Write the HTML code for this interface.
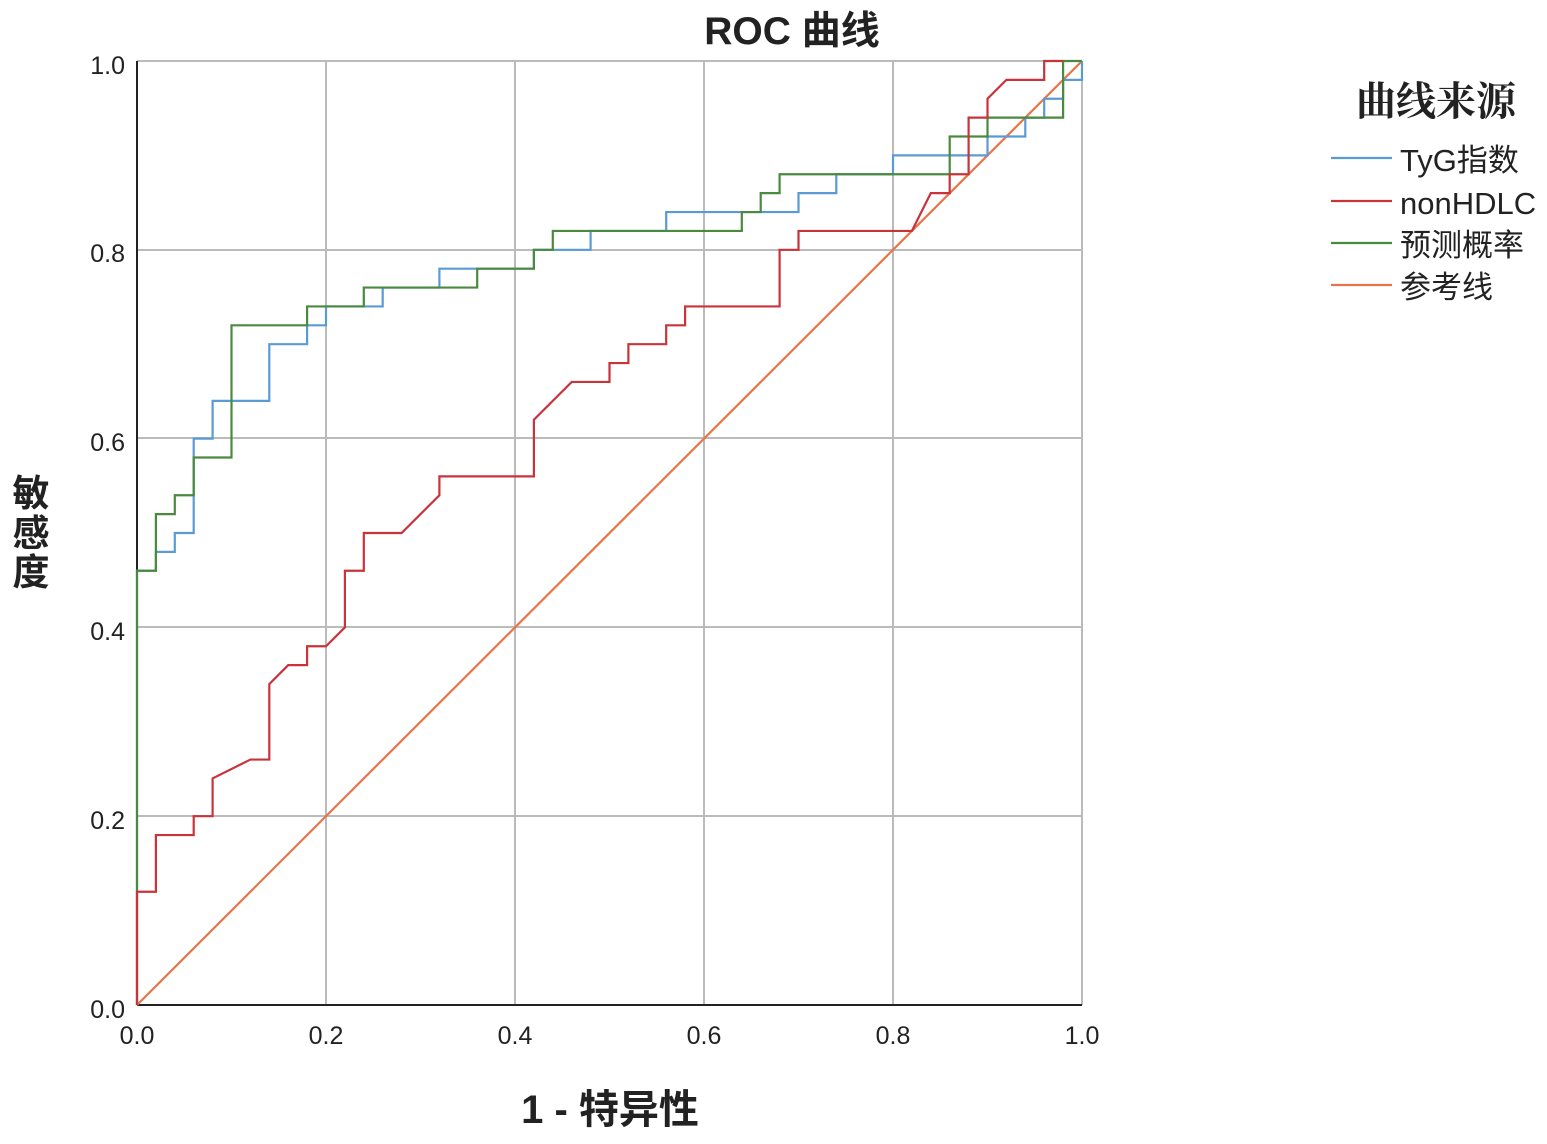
<!DOCTYPE html>
<html><head><meta charset="utf-8"><style>
body{margin:0;background:#fff}
svg{display:block}
text{font-family:"Liberation Sans","Noto Sans CJK SC",sans-serif;fill:#222}
.b{font-weight:bold}
</style></head><body>
<svg width="1547" height="1144" viewBox="0 0 1547 1144">
<text x="792" y="44" text-anchor="middle" font-size="39" class="b">ROC 曲线</text>
<g stroke="#bbb" stroke-width="2">
<line x1="326" y1="61" x2="326" y2="1005"/><line x1="515" y1="61" x2="515" y2="1005"/>
<line x1="704" y1="61" x2="704" y2="1005"/><line x1="893" y1="61" x2="893" y2="1005"/>
<line x1="1082" y1="61" x2="1082" y2="1005"/>
<line x1="137" y1="61" x2="1082" y2="61"/><line x1="137" y1="250" x2="1082" y2="250"/>
<line x1="137" y1="438" x2="1082" y2="438"/><line x1="137" y1="627" x2="1082" y2="627"/>
<line x1="137" y1="816" x2="1082" y2="816"/>
</g>
<g stroke="#222" stroke-width="2"><line x1="137" y1="61" x2="137" y2="1005"/><line x1="137" y1="1005" x2="1082" y2="1005"/></g>
<g font-size="25" text-anchor="end">
<text x="125" y="74">1.0</text><text x="125" y="262">0.8</text><text x="125" y="451">0.6</text>
<text x="125" y="640">0.4</text><text x="125" y="829">0.2</text><text x="125" y="1018">0.0</text>
</g>
<g font-size="25" text-anchor="middle">
<text x="137" y="1044">0.0</text><text x="326" y="1044">0.2</text><text x="515" y="1044">0.4</text>
<text x="704" y="1044">0.6</text><text x="893" y="1044">0.8</text><text x="1082" y="1044">1.0</text>
</g>
<text x="610" y="1123" text-anchor="middle" font-size="40" class="b">1 - 特异性</text>
<g font-size="37" class="b" text-anchor="middle"><text x="31" y="506">敏</text><text x="31" y="546">感</text><text x="31" y="585">度</text></g>
<g transform="translate(137,1005) scale(945,-944)" fill="none" stroke-width="2.2">
<polyline vector-effect="non-scaling-stroke" stroke="#e8744a" points="0,0 1,1"/>
<polyline vector-effect="non-scaling-stroke" stroke="#5b9bd5" points="0,0 0,0.46 0.02,0.46 0.02,0.48 0.04,0.48 0.04,0.50 0.06,0.50 0.06,0.60 0.08,0.60 0.08,0.64 0.14,0.64 0.14,0.70 0.18,0.70 0.18,0.72 0.20,0.72 0.20,0.74 0.26,0.74 0.26,0.76 0.32,0.76 0.32,0.78 0.42,0.78 0.42,0.80 0.48,0.80 0.48,0.82 0.56,0.82 0.56,0.84 0.70,0.84 0.70,0.86 0.74,0.86 0.74,0.88 0.80,0.88 0.80,0.90 0.90,0.90 0.90,0.92 0.94,0.92 0.94,0.94 0.96,0.94 0.96,0.96 0.98,0.96 0.98,0.98 1,0.98 1,1"/>
<polyline vector-effect="non-scaling-stroke" stroke="#4a8a3f" points="0,0 0,0.46 0.02,0.46 0.02,0.52 0.04,0.52 0.04,0.54 0.06,0.54 0.06,0.58 0.10,0.58 0.10,0.72 0.18,0.72 0.18,0.74 0.24,0.74 0.24,0.76 0.36,0.76 0.36,0.78 0.42,0.78 0.42,0.80 0.44,0.80 0.44,0.82 0.64,0.82 0.64,0.84 0.66,0.84 0.66,0.86 0.68,0.86 0.68,0.88 0.86,0.88 0.86,0.92 0.90,0.92 0.90,0.94 0.98,0.94 0.98,1 1,1"/>
<polyline vector-effect="non-scaling-stroke" stroke="#c9333a" points="0,0 0,0.12 0.02,0.12 0.02,0.18 0.06,0.18 0.06,0.20 0.08,0.20 0.08,0.24 0.12,0.26 0.14,0.26 0.14,0.34 0.16,0.36 0.18,0.36 0.18,0.38 0.20,0.38 0.22,0.40 0.22,0.46 0.24,0.46 0.24,0.50 0.28,0.50 0.32,0.54 0.32,0.56 0.42,0.56 0.42,0.62 0.46,0.66 0.50,0.66 0.50,0.68 0.52,0.68 0.52,0.70 0.56,0.70 0.56,0.72 0.58,0.72 0.58,0.74 0.68,0.74 0.68,0.80 0.70,0.80 0.70,0.82 0.82,0.82 0.84,0.86 0.86,0.86 0.86,0.88 0.88,0.88 0.88,0.94 0.90,0.94 0.90,0.96 0.92,0.98 0.96,0.98 0.96,1 0.98,1"/>
</g>
<text x="1436" y="115" text-anchor="middle" font-size="40" class="b" style="font-family:'Noto Serif CJK SC',serif">曲线来源</text>
<g stroke-width="2.2">
<line x1="1331" y1="158" x2="1392" y2="158" stroke="#5b9bd5"/>
<line x1="1331" y1="201" x2="1392" y2="201" stroke="#c9333a"/>
<line x1="1331" y1="243" x2="1392" y2="243" stroke="#4a8a3f"/>
<line x1="1331" y1="285" x2="1392" y2="285" stroke="#e8744a"/>
</g>
<g font-size="31">
<text x="1400" y="171">TyG指数</text><text x="1400" y="214">nonHDLC</text>
<text x="1400" y="256">预测概率</text><text x="1400" y="298">参考线</text>
</g>
</svg>
</body></html>
